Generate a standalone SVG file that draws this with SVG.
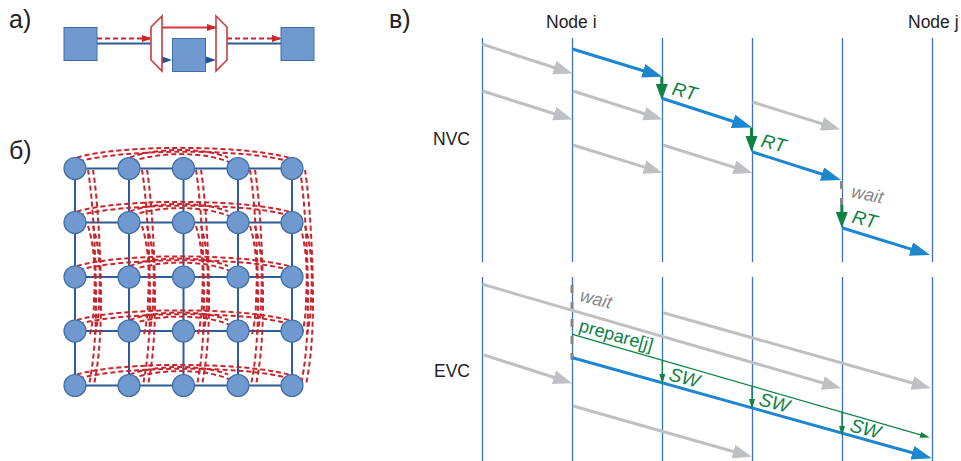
<svg xmlns="http://www.w3.org/2000/svg" xmlns:xlink="http://www.w3.org/1999/xlink" width="961" height="461" viewBox="0 0 961 461">
<style>
text{font-family:"Liberation Sans",Arial,sans-serif}
.lab{font-size:17.5px;fill:#222}
.pan{font-size:25px;fill:#222}
.it{font-style:italic;font-size:19px}
.g{fill:#0f8244}.w{fill:#87878a;font-size:18px}
.vl{stroke:#3f72c4;stroke-width:1.3;fill:none}
.gr{stroke:#bfc0c3;stroke-width:3;fill:none;marker-end:url(#hg)}
.bl{stroke:#1c86cf;stroke-width:3;fill:none;marker-end:url(#hb)}
.gv{stroke:#0f8244;stroke-width:3;fill:none;marker-end:url(#hv)}
.gs{stroke:#0f8244;stroke-width:1.3;fill:none;marker-end:url(#hs)}
.wt{stroke:#87878a;stroke-width:3;fill:none;stroke-dasharray:8 9}
.sq{fill:#7099cf;stroke:#3f6ea8;stroke-width:1}
.ci{fill:#7099cf;stroke:#3f6ea8;stroke-width:1.2}
.mesh{stroke:#2f5c96;stroke-width:2;fill:none}
.da{stroke:#2f5c96;stroke-width:2.2;fill:none}
.rd{stroke:#c9252d;stroke-width:2;fill:none;stroke-dasharray:5 3;marker-end:url(#hr)}
.rs{stroke:#cf3a3f;stroke-width:2;fill:none;marker-end:url(#hr)}
.nb{stroke:none;fill:#1f5396}
.sw{fill:#fff;stroke:#cf3a3f;stroke-width:1.6}
.r2{stroke:#c9252d;stroke-width:2;fill:none;stroke-dasharray:5 3}
</style>
<defs>
<marker id="hg" markerUnits="userSpaceOnUse" markerWidth="22" markerHeight="16" refX="11" refY="7" orient="auto"><path d="M0 0L19 7L0 14z" fill="#bfc0c3"/></marker>
<marker id="hb" markerUnits="userSpaceOnUse" markerWidth="22" markerHeight="16" refX="12" refY="7" orient="auto"><path d="M0 0L20 7L0 14z" fill="#1c86cf"/></marker>
<marker id="hv" markerUnits="userSpaceOnUse" markerWidth="18" markerHeight="13" refX="8" refY="6" orient="auto"><path d="M0 0L16 6L0 12z" fill="#0f8244"/></marker>
<marker id="hs" markerUnits="userSpaceOnUse" markerWidth="12" markerHeight="8" refX="5" refY="3" orient="auto"><path d="M0 0L10 3L0 6z" fill="#0f8244"/></marker>
<marker id="hr" markerUnits="userSpaceOnUse" markerWidth="12" markerHeight="8" refX="9" refY="3.5" orient="auto"><path d="M0 0L10 3.500L0 7z" fill="#c9252d"/></marker>
<g id="hring"><path class="r2" d="M77 -11C120 -24 245 -24 292 -10"/><path class="r2" d="M79 -7C125 -20 245 -20 290 -7"/><path class="r2" d="M130 -11C155 -21 205 -21 228 -11"/><path class="r2" d="M132 -7C160 -17 205 -17 230 -6"/></g>
<g id="vring"><path class="r2" d="M0 0C5 30 8 90 8 130C8 170 5 195 1 215"/><path class="r2" d="M5 0C10 30 13 90 13 130C13 170 10 195 6 215"/><path class="r2" d="M0 56C6 75 8 100 6 130C6 145 4 155 2 165"/><path class="r2" d="M5 56C11 75 13 100 11 130C11 145 9 155 7 165"/></g>
</defs>

<text class="pan" x="9" y="28">а)</text>
<text class="pan" x="9" y="159">б)</text>
<text class="pan" x="389" y="28">в)</text>
<text class="lab" x="546" y="28">Node i</text>
<text class="lab" x="908" y="28">Node j</text>
<text class="lab" x="433" y="145">NVC</text>
<text class="lab" x="434" y="377">EVC</text>

<g id="connectors">
<g id="switch-connectors">
<path class="rd" d="M97 38.500H151"/><path class="da" d="M97 43.500H151"/>
<path class="rs" d="M162 27.500H216"/>
<path class="rd" d="M227 38.500H281"/><path class="da" d="M227 43.500H281"/>
<path class="nb" d="M162 56.500L172 60L162 63.500z"/><path class="nb" d="M206 56.500L216 60L206 63.500z"/>
</g>
<g id="mesh-links">
<path class="mesh" d="M75 168.500H292M75 222.500H292M75 277H292M75 331H292M75 385.500H292"/>
<path class="mesh" d="M75 168.500V385.500M129 168.500V385.500M183.500 168.500V385.500M238 168.500V385.500M292 168.500V385.500"/>
<use xlink:href="#hring" href="#hring" y="168.500"/>
<use xlink:href="#hring" href="#hring" y="222.500"/>
<use xlink:href="#hring" href="#hring" y="277"/>
<use xlink:href="#hring" href="#hring" y="331"/>
<use xlink:href="#hring" href="#hring" y="385.500"/>
<use xlink:href="#vring" href="#vring" x="88" y="170"/>
<use xlink:href="#vring" href="#vring" x="142" y="170"/>
<use xlink:href="#vring" href="#vring" x="196" y="170"/>
<use xlink:href="#vring" href="#vring" x="250" y="170"/>
<use xlink:href="#vring" href="#vring" x="300" y="170"/>
</g>
<g id="timeline-lines">
<path class="vl" d="M482.500 38V262M572.500 38V262M662.500 38V262M752.500 38V262M842.500 38V262M932.500 38V262"/>
<path class="vl" d="M482.500 277V461M572.500 277V461M662.500 277V461M752.500 277V461M842.500 277V461M932.500 277V461"/>
</g>
<g id="nvc-arrows">
<path class="gr" d="M482.500 44.300L564.800 71"/>
<path class="gr" d="M482.500 91L564.800 117"/>
<path class="gr" d="M573 91L654.800 117"/>
<path class="gr" d="M573 145L654.800 170.400"/>
<path class="gr" d="M663 145L744.800 170.600"/>
<path class="gr" d="M752.500 102L832.400 127"/>
<path class="bl" d="M572.500 49L654.700 74.300"/>
<path class="gv" d="M661.800 77V92"/>
<path class="bl" d="M662.500 98.500L744.400 125"/>
<path class="gv" d="M751.500 127.500V144"/>
<path class="bl" d="M752.500 152L833.400 177.700"/>
<path class="wt" d="M841.500 181V205"/>
<path class="gv" d="M841.800 205V220"/>
<path class="bl" d="M842.500 228L922.400 252.600"/>
</g>
<g id="evc-arrows">
<path class="wt" d="M572 285V360"/>
<path class="gr" d="M482.500 284.300L833.400 386"/>
<path class="gr" d="M663.300 312.700L923 386"/>
<path class="gr" d="M484 355L564.400 380.700"/>
<path class="gr" d="M573 406L744 454.500"/>
<path class="gs" d="M572.500 334.300L925 436.200"/>
<path class="bl" d="M572.500 357.700L924 456"/>
<path class="gs" d="M662.300 360V379"/>
<path class="gs" d="M752 386V404"/>
<path class="gs" d="M842 411.700V431"/>
</g>
</g>

<g id="labels">
<text class="it g" transform="translate(671 94.500) rotate(14)">RT</text>
<text class="it g" transform="translate(760 146.500) rotate(14)">RT</text>
<text class="it g" transform="translate(851 222.500) rotate(14)">RT</text>
<text class="it w" transform="translate(850.500 197) rotate(12)">wait</text>
<text class="it w" transform="translate(579 301) rotate(14)">wait</text>
<text class="g" style="font-size:18px" transform="translate(578 331) rotate(15.500)">prepare[j]</text>
<text class="it g" transform="translate(668 380) rotate(15)">SW</text>
<text class="it g" transform="translate(758 405) rotate(15)">SW</text>
<text class="it g" transform="translate(849 431) rotate(15)">SW</text>
</g>

<g id="sw-left"><path class="sw" d="M162 16L151 27V60L162 71z"/></g>
<g id="sw-right"><path class="sw" d="M216 16L227 27V60L216 71z"/></g>
<g id="sq-left"><rect class="sq" x="64" y="27.500" width="33" height="33"/></g>
<g id="sq-mid"><rect class="sq" x="172.500" y="38.500" width="33" height="33"/></g>
<g id="sq-right"><rect class="sq" x="281" y="27.500" width="33" height="33"/></g>

<g id="n11"><circle class="ci" cx="75" cy="168.500" r="11"/></g>
<g id="n12"><circle class="ci" cx="129" cy="168.500" r="11"/></g>
<g id="n13"><circle class="ci" cx="183.500" cy="168.500" r="11"/></g>
<g id="n14"><circle class="ci" cx="238" cy="168.500" r="11"/></g>
<g id="n15"><circle class="ci" cx="292" cy="168.500" r="11"/></g>
<g id="n21"><circle class="ci" cx="75" cy="222.500" r="11"/></g>
<g id="n22"><circle class="ci" cx="129" cy="222.500" r="11"/></g>
<g id="n23"><circle class="ci" cx="183.500" cy="222.500" r="11"/></g>
<g id="n24"><circle class="ci" cx="238" cy="222.500" r="11"/></g>
<g id="n25"><circle class="ci" cx="292" cy="222.500" r="11"/></g>
<g id="n31"><circle class="ci" cx="75" cy="277" r="11"/></g>
<g id="n32"><circle class="ci" cx="129" cy="277" r="11"/></g>
<g id="n33"><circle class="ci" cx="183.500" cy="277" r="11"/></g>
<g id="n34"><circle class="ci" cx="238" cy="277" r="11"/></g>
<g id="n35"><circle class="ci" cx="292" cy="277" r="11"/></g>
<g id="n41"><circle class="ci" cx="75" cy="331" r="11"/></g>
<g id="n42"><circle class="ci" cx="129" cy="331" r="11"/></g>
<g id="n43"><circle class="ci" cx="183.500" cy="331" r="11"/></g>
<g id="n44"><circle class="ci" cx="238" cy="331" r="11"/></g>
<g id="n45"><circle class="ci" cx="292" cy="331" r="11"/></g>
<g id="n51"><circle class="ci" cx="75" cy="385.500" r="11"/></g>
<g id="n52"><circle class="ci" cx="129" cy="385.500" r="11"/></g>
<g id="n53"><circle class="ci" cx="183.500" cy="385.500" r="11"/></g>
<g id="n54"><circle class="ci" cx="238" cy="385.500" r="11"/></g>
<g id="n55"><circle class="ci" cx="292" cy="385.500" r="11"/></g>
</svg>
